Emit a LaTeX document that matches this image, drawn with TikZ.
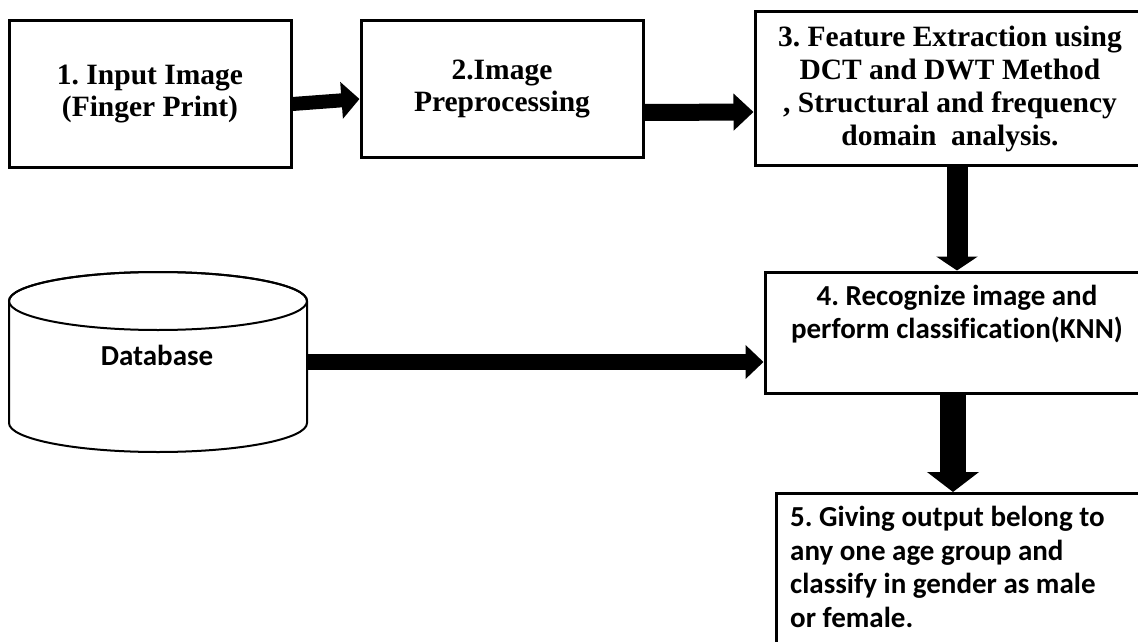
\documentclass[tikz,border=0pt]{standalone}
\usepackage{fontspec}
\setmainfont{Liberation Serif}
\newfontfamily\calfont[Ligatures=NoCommon]{Carlito}
\usetikzlibrary{arrows.meta}
\frenchspacing
\begin{document}
\begin{tikzpicture}[x=1pt,y=-1pt,
  box/.style={draw, line width=3pt, inner sep=0pt, fill=white},
  tnr/.style={font=\bfseries\fontsize{29.5}{32}\selectfont, align=center, inner sep=0pt},
  cal/.style={font=\calfont\bfseries\fontsize{29}{33.5}\selectfont, inner sep=0pt},
  blk/.style n args={3}{line width=#1, -{Triangle[width=#2,length=#3]}},
]
\useasboundingbox (0,0) rectangle (1138,642);
\clip (0,0) rectangle (1138,642);

% process boxes
\node[box, tnr, minimum width=282pt, minimum height=146pt] (n1) at (150,94)
  {1. Input Image\\(Finger Print)};
\node[box, tnr, minimum width=282pt, minimum height=136pt] (n2) at (502,89)
  {2.Image\\Preprocessing};
\node[box, tnr, minimum width=390pt, minimum height=153pt, font=\bfseries\fontsize{29.5}{33}\selectfont] (n3) at (950,88.5)
  {3. Feature Extraction using\\DCT and DWT Method\\, Structural and frequency\\domain~ analysis.};
\node[box, minimum width=384pt, minimum height=121pt] (n4) at (957,332.5) {};
\node[cal, align=center] (t4) at (957,314)
  {4. Recognize image and\\perform classification(KNN)};
\node[box, anchor=north west, minimum width=380pt, minimum height=170pt] (n5) at (775,492) {};
\node[cal, align=left, anchor=north west] (t5) at (790,506)
  {5. Giving output belong to\\any one age group and\\classify in gender as male\\or female.};

% database cylinder
\node[minimum width=298pt, minimum height=180pt, inner sep=0pt] (db) at (158,362) {};
\draw[line width=2pt, fill=white]
  (9,301) -- (9,423) arc[start angle=180, end angle=0, x radius=149, y radius=29]
  -- (307,301) arc[start angle=0, end angle=-180, x radius=149, y radius=29];
\draw[line width=2pt] (158,301) ellipse[x radius=149, y radius=29];
\node[cal] (dbl) at (157,355) {Database};

% block arrows
\draw[blk={14pt}{36pt}{18pt}] ([yshift=-10pt]n1.east) -- ([yshift=-10pt]n2.west);
\draw[blk={17pt}{36pt}{20pt}] ([yshift=-23.5pt]n2.east) -- ([yshift=-23.5pt]n3.west);
\draw[blk={21pt}{41pt}{14pt}] (n3.south -| n4) -- (n4.north);
\draw[blk={26pt}{51pt}{20pt}] ([xshift=-4pt]n4.south) -- ([xshift=-4pt]n4.south |- n5.north);
\draw[blk={16pt}{33pt}{18pt}] (db.east) -- (db.east -| n4.west);
\end{tikzpicture}
\end{document}
